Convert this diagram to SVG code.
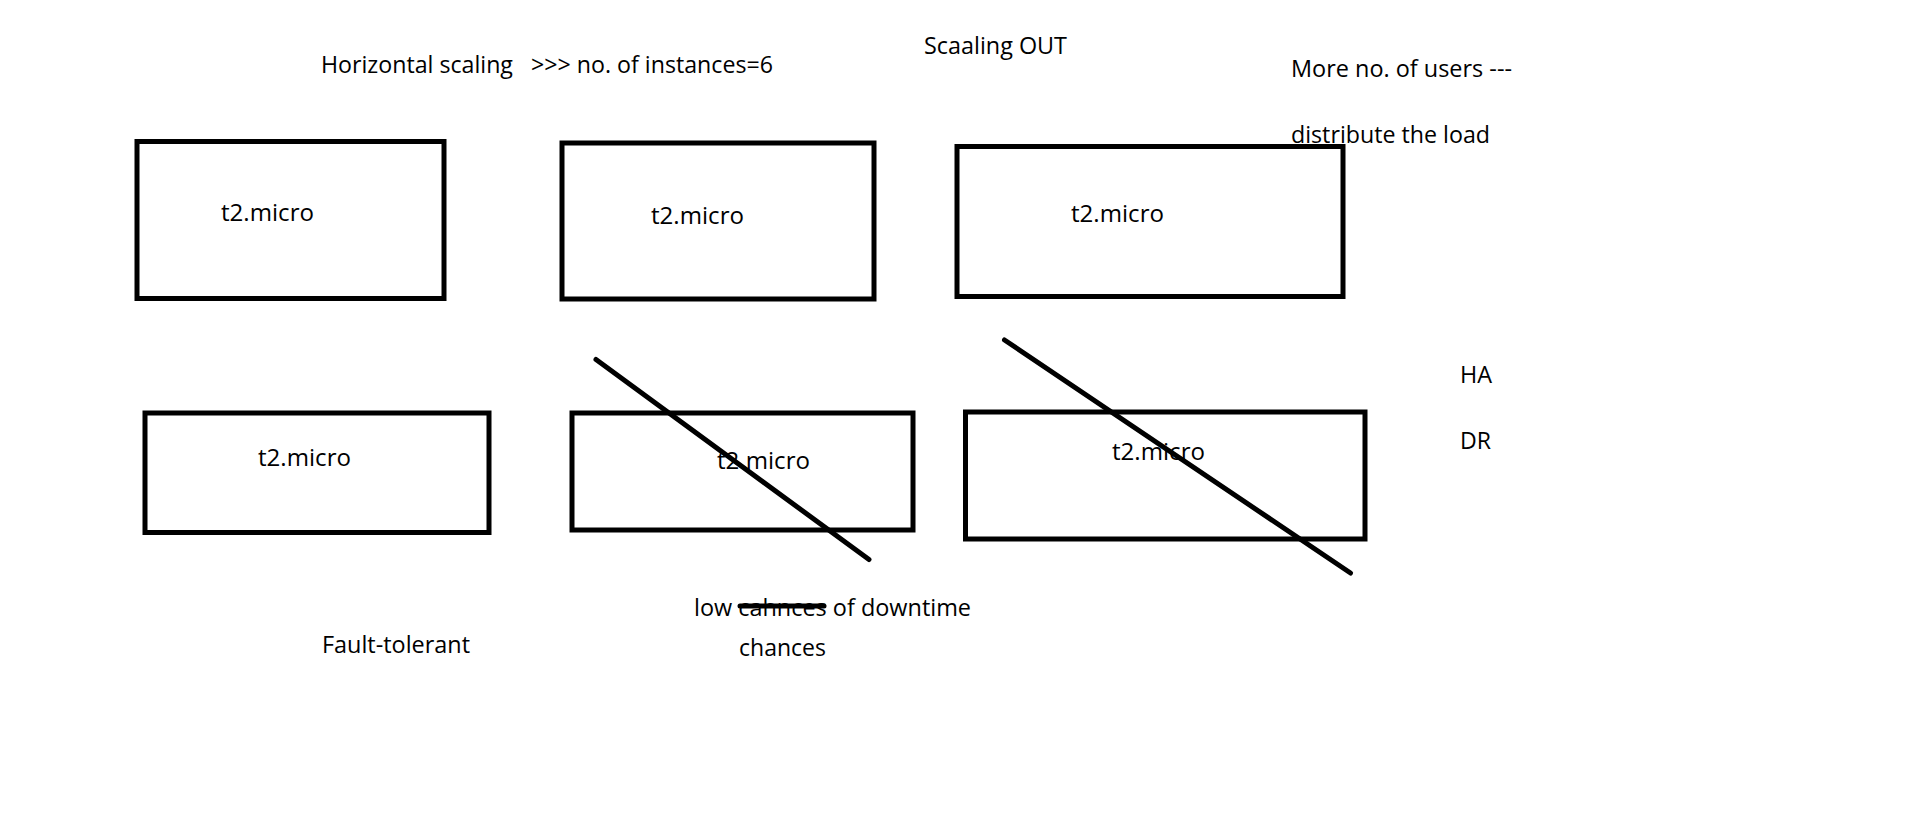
<svg xmlns="http://www.w3.org/2000/svg" width="1911" height="820" viewBox="0 0 1911 820">
<style>
.box{fill:none;stroke:#000;stroke-width:5}
.t{font-family:"Open Sans","Liberation Sans",sans-serif;font-size:24px;fill:#000}
.ln{stroke:#000;stroke-width:5;stroke-linecap:round;fill:none}
</style>
<rect width="1911" height="820" fill="#fff"/>
<g id="labels">
<text class="t" x="321" y="73" textLength="452" lengthAdjust="spacingAndGlyphs" xml:space="preserve">Horizontal scaling   &gt;&gt;&gt; no. of instances=6</text>
<text class="t" x="924" y="54" textLength="143" lengthAdjust="spacingAndGlyphs">Scaaling OUT</text>
<text class="t" x="1291" y="77" textLength="221" lengthAdjust="spacingAndGlyphs">More no. of users ---</text>
<text class="t" x="1291" y="143" textLength="199" lengthAdjust="spacingAndGlyphs">distribute the load</text>
<text class="t" x="1460" y="383" textLength="32" lengthAdjust="spacingAndGlyphs">HA</text>
<text class="t" x="1460" y="449" textLength="31" lengthAdjust="spacingAndGlyphs">DR</text>
<text class="t" x="322" y="653" textLength="148" lengthAdjust="spacingAndGlyphs">Fault-tolerant</text>
<text class="t" x="694" y="616" textLength="277" lengthAdjust="spacingAndGlyphs">low cahnces of downtime</text>
<text class="t" x="739" y="656" textLength="87" lengthAdjust="spacingAndGlyphs">chances</text>
</g>
<g id="node1"><rect class="box" x="137" y="141.5" width="307" height="157"/><text class="t" x="221" y="221" textLength="93" lengthAdjust="spacingAndGlyphs">t2.micro</text></g>
<g id="node2"><rect class="box" x="562" y="143" width="312" height="156"/><text class="t" x="651" y="224" textLength="93" lengthAdjust="spacingAndGlyphs">t2.micro</text></g>
<g id="node3"><rect class="box" x="957" y="146.5" width="386" height="150"/><text class="t" x="1071" y="222" textLength="93" lengthAdjust="spacingAndGlyphs">t2.micro</text></g>
<g id="node4"><rect class="box" x="145" y="413" width="344" height="119.5"/><text class="t" x="258" y="466" textLength="93" lengthAdjust="spacingAndGlyphs">t2.micro</text></g>
<g id="node5"><rect class="box" x="572" y="413" width="341" height="117"/><text class="t" x="717" y="469" textLength="93" lengthAdjust="spacingAndGlyphs">t2.micro</text></g>
<g id="node6"><rect class="box" x="965.5" y="412" width="399.5" height="127"/><text class="t" x="1112" y="460" textLength="93" lengthAdjust="spacingAndGlyphs">t2.micro</text></g>
<g id="connectors">
<line class="ln" x1="596" y1="359.5" x2="869" y2="559.5"/>
<line class="ln" x1="1004.5" y1="340" x2="1350.5" y2="573"/>
<line class="ln" x1="740" y1="606" x2="824" y2="606"/>
</g>
</svg>
